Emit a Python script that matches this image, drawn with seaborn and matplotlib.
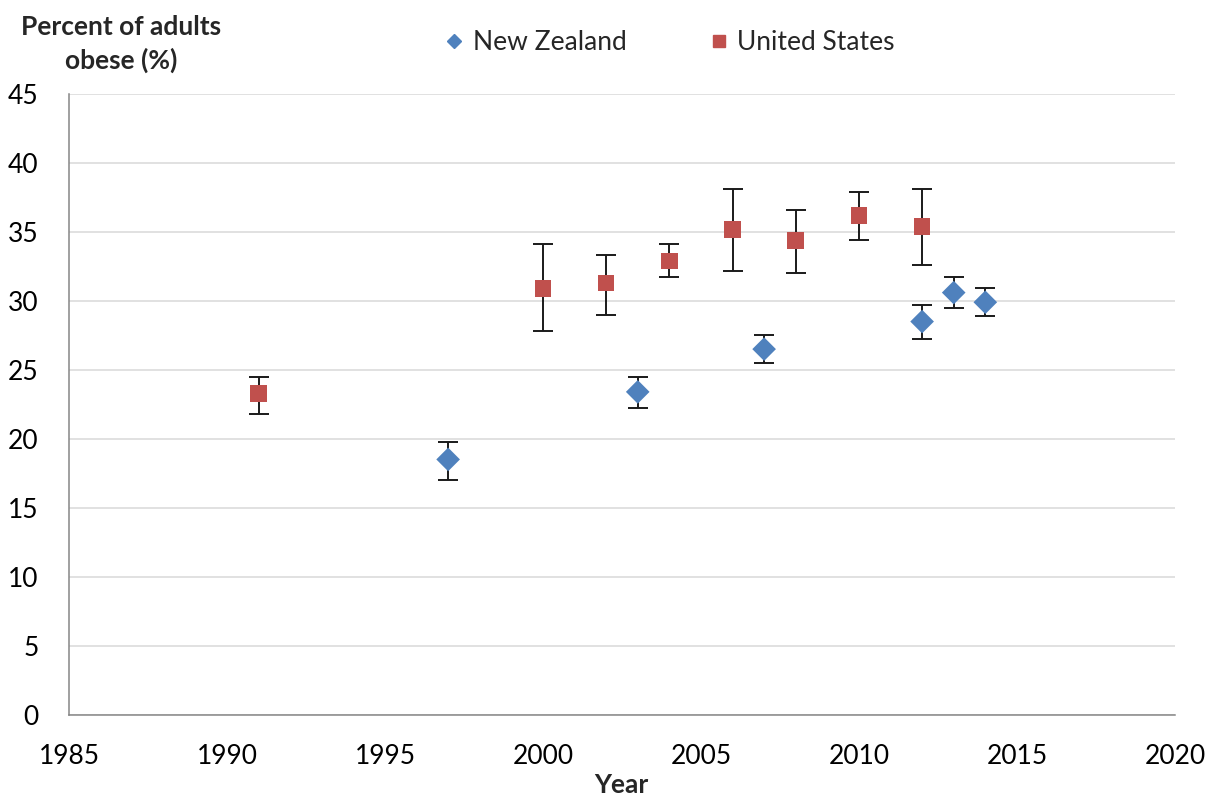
import pandas as pd
import seaborn as sns
import matplotlib.pyplot as plt
from matplotlib.lines import Line2D

# values
nz_years = [1997, 2003, 2007, 2012, 2013, 2014]
nz_values = [18.5, 23.4, 26.5, 28.5, 30.6, 29.9]
nz_lower = [17.0, 22.2, 25.5, 27.2, 29.5, 28.9]
nz_upper = [19.8, 24.5, 27.5, 29.7, 31.7, 30.9]

us_years = [1991, 2000, 2002, 2004, 2006, 2008, 2010, 2012]
us_values = [23.3, 30.9, 31.3, 32.9, 35.2, 34.4, 36.2, 35.4]
us_lower = [21.8, 27.8, 29.0, 31.7, 32.2, 32.0, 34.4, 32.6]
us_upper = [24.5, 34.1, 33.3, 34.1, 38.1, 36.6, 37.9, 38.1]

x_ticks = [1985, 1990, 1995, 2000, 2005, 2010, 2015, 2020]
y_ticks = [0, 5, 10, 15, 20, 25, 30, 35, 40, 45]

nz_color = "#4F81BD"
us_color = "#C0504D"

df = pd.concat([
    pd.DataFrame({"Year": nz_years, "Obese": nz_values, "low": nz_lower,
                  "high": nz_upper, "Country": "New Zealand"}),
    pd.DataFrame({"Year": us_years, "Obese": us_values, "low": us_lower,
                  "high": us_upper, "Country": "United States"}),
])

sns.set_theme(style="white")
plt.rcParams["font.family"] = ["Lato", "DejaVu Sans"]

fig = plt.figure(figsize=(12.16, 7.97), dpi=100)
ax = fig.add_axes([0.0567, 0.1035, 0.9095, 0.7785])

ax.yaxis.grid(True, color="#d9d9d9", linewidth=1.1)
ax.set_axisbelow(True)

# error bars first so the markers sit on top
for country, sub in df.groupby("Country"):
    ax.errorbar(sub["Year"], sub["Obese"],
                yerr=[sub["Obese"] - sub["low"], sub["high"] - sub["Obese"]],
                fmt="none", ecolor="#1a1a1a", elinewidth=1.4, capsize=7,
                capthick=1.4, zorder=2)

sns.scatterplot(data=df, x="Year", y="Obese", hue="Country", style="Country",
                palette={"New Zealand": nz_color, "United States": us_color},
                markers={"New Zealand": "D", "United States": "s"},
                s=145, linewidth=0, legend=False, ax=ax, zorder=3)

ax.set_xlim(1985, 2020)
ax.set_ylim(0, 45)
ax.set_xticks(x_ticks)
ax.set_yticks(y_ticks)
ax.tick_params(axis="both", labelsize=19, colors="#868686", labelcolor="black",
               direction="out", length=8, width=1.1)
ax.tick_params(axis="x", pad=13)
ax.tick_params(axis="y", length=6, pad=16)

for side in ["top", "right"]:
    ax.spines[side].set_visible(False)
for side in ["left", "bottom"]:
    ax.spines[side].set_color("#868686")
    ax.spines[side].set_linewidth(1.1)

ax.set_xlabel("")
ax.set_ylabel("")
fig.text(621 / 1216, 1 - 785 / 797, "Year", ha="center", va="center",
         fontsize=19, fontweight="bold")
fig.text(121 / 1216, 1 - 44 / 797, "Percent of adults\nobese (%)", ha="center",
         va="center", fontsize=19, fontweight="bold", linespacing=1.45)

handles = [
    Line2D([], [], marker="D", color=nz_color, linestyle="none", markersize=7),
    Line2D([], [], marker="s", color=us_color, linestyle="none", markersize=8),
]
fig.legend(handles, ["New Zealand", "United States"], loc="center",
           bbox_to_anchor=(668 / 1216, 1 - 43 / 797), ncol=2, frameon=False,
           fontsize=19, handletextpad=0.2, columnspacing=3.0, handlelength=1.0)

fig.savefig("out.png", dpi=100)
